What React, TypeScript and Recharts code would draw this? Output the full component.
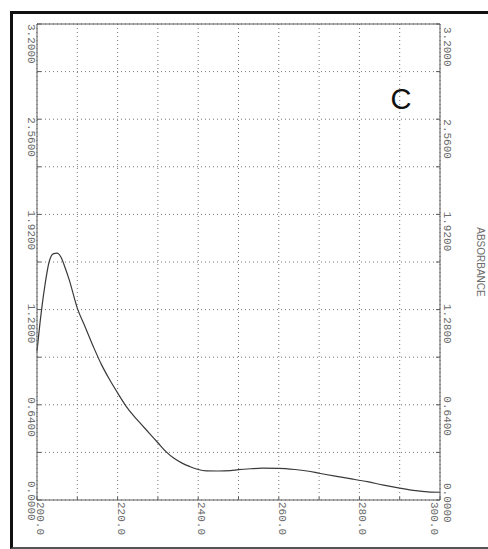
import { LineChart, Line, XAxis, YAxis, CartesianGrid, ReferenceLine, ReferenceDot } from "recharts"

// wavelength (nm) and absorbance
const wavelengths = [200, 201, 202, 203, 204, 205, 206, 207, 208, 210, 212, 214, 216, 218, 220, 222, 224, 226, 228, 230, 232, 234, 236, 238, 240, 242, 245, 248, 250, 253, 256, 260, 264, 267, 270, 274, 278, 282, 286, 290, 294, 297, 300]
const absorbance = [1.0, 1.25, 1.45, 1.6, 1.655, 1.66, 1.63, 1.56, 1.48, 1.29, 1.16, 1.03, 0.91, 0.81, 0.72, 0.635, 0.565, 0.505, 0.445, 0.385, 0.325, 0.28, 0.248, 0.224, 0.205, 0.196, 0.195, 0.198, 0.204, 0.21, 0.214, 0.213, 0.205, 0.195, 0.18, 0.16, 0.142, 0.123, 0.1, 0.08, 0.063, 0.055, 0.052]

const xTicks = [200, 210, 220, 230, 240, 250, 260, 270, 280, 290, 300]
const xLabels = [200, 220, 240, 260, 280, 300]
const yTicks = [0, 0.32, 0.64, 0.96, 1.28, 1.6, 1.92, 2.24, 2.56, 2.88, 3.2]
const yLabels = [0, 0.64, 1.28, 1.92, 2.56, 3.2]

const data = wavelengths.map((w, i) => ({ nm: w, abs: absorbance[i] }))

const labelFont = "'Liberation Mono', 'DejaVu Sans Mono', monospace"
const gray = "#6c6c6c"
const axisColor = "#5a5a5a"

function isLabel(list: number[], v: number) {
  return list.some((l) => Math.abs(l - v) < 1e-6)
}

function RotatedText({ cx, top, text }: { cx: number; top: number; text: string }) {
  return (
    <text
      x={cx}
      y={top}
      transform={`rotate(90 ${cx} ${top})`}
      textAnchor="start"
      dominantBaseline="central"
      fontFamily={labelFont}
      fontSize={11}
      fill={gray}
    >
      {text}
    </text>
  )
}

function LeftTick(props: any) {
  const { x, y, payload } = props
  const v = payload.value
  const top = v === 0 ? y - 19 : y - (y - 23) * 0.02
  return (
    <g>
      <line x1={x} x2={x + 4} y1={y} y2={y} stroke={axisColor} />
      {isLabel(yLabels, v) && <RotatedText cx={x - 6} top={top} text={v.toFixed(4)} />}
    </g>
  )
}

function RightTick(props: any) {
  const { x, y, payload } = props
  const v = payload.value
  const top = v === 0 ? y - 17 : y + 3 - (y - 23) * 0.03
  return (
    <g>
      <line x1={x - 4} x2={x} y1={y} y2={y} stroke={axisColor} />
      {isLabel(yLabels, v) && <RotatedText cx={x + 7} top={top} text={v.toFixed(4)} />}
    </g>
  )
}

function BottomTick(props: any) {
  const { x, y, payload } = props
  const v = payload.value
  const cx = v === 300 ? x - 6 : x + 3
  return (
    <g>
      <line x1={x} x2={x} y1={y - 3} y2={y} stroke={axisColor} />
      {isLabel(xLabels, v) && <RotatedText cx={cx} top={y + 2} text={v.toFixed(1)} />}
    </g>
  )
}

export default function App() {
  return (
    <div
      style={{
        position: "absolute",
        left: 0,
        top: 0,
        width: 488,
        height: 549,
        background: "#fff",
        overflow: "hidden",
      }}
    >
      {/* scan frame */}
      <div
        style={{
          position: "absolute",
          left: 10,
          top: 11,
          width: 500,
          height: 533,
          borderLeft: "3px solid #111",
          borderTop: "3px solid #111",
          borderBottom: "2px solid #555",
        }}
      />
      <div style={{ position: "absolute", left: 0, top: 0 }}>
        <LineChart
          width={488}
          height={549}
          data={data}
          margin={{ top: 24, left: 7, right: 18, bottom: 19 }}
        >
          <CartesianGrid
            yAxisId="left"
            stroke="#777"
            strokeDasharray="1 3"
            horizontalValues={yTicks}
            verticalValues={xTicks}
          />
          <XAxis
            dataKey="nm"
            type="number"
            domain={[200, 300]}
            ticks={xTicks}
            interval={0}
            height={30}
            tickSize={0}
            tickMargin={0}
            tickLine={false}
            axisLine={{ stroke: axisColor }}
            tick={<BottomTick />}
          />
          <YAxis
            yAxisId="left"
            type="number"
            domain={[0, 3.2]}
            allowDataOverflow
            ticks={yTicks}
            interval={0}
            width={30}
            tickSize={0}
            tickMargin={0}
            tickLine={false}
            axisLine={{ stroke: axisColor }}
            tick={<LeftTick />}
          />
          <YAxis
            yAxisId="right"
            orientation="right"
            type="number"
            domain={[0, 3.2]}
            allowDataOverflow
            ticks={yTicks}
            interval={0}
            width={30}
            tickSize={0}
            tickMargin={0}
            tickLine={false}
            axisLine={{ stroke: axisColor }}
            tick={<RightTick />}
            label={{
              content: (p: any) => {
                const vb = p.viewBox
                const cx = vb.x + vb.width + 10
                const cy = vb.y + vb.height / 2
                return (
                  <text
                    x={cx}
                    y={cy}
                    transform={`rotate(90 ${cx} ${cy})`}
                    textAnchor="middle"
                    dominantBaseline="central"
                    fontFamily="'Liberation Sans', Arial, sans-serif"
                    fontSize={10}
                    fill={gray}
                  >
                    ABSORBANCE
                  </text>
                )
              },
            }}
          />
          <ReferenceLine yAxisId="left" y={3.2} stroke={axisColor} />
          <ReferenceDot
            yAxisId="left"
            x={290.3}
            y={2.7}
            r={0}
            fill="none"
            stroke="none"
            label={{
              value: "C",
              position: "center",
              fontSize: 29,
              fontFamily: "'Liberation Sans', Arial, sans-serif",
              fill: "#111",
            }}
          />
          {/* keeps the right-hand absorbance axis attached to the data */}
          <Line
            yAxisId="right"
            dataKey="abs"
            stroke="none"
            strokeOpacity={0}
            dot={false}
            activeDot={false}
            isAnimationActive={false}
          />
          <Line
            yAxisId="left"
            type="monotone"
            dataKey="abs"
            stroke="#3a3a3a"
            strokeWidth={1.2}
            dot={false}
            isAnimationActive={false}
          />
        </LineChart>
      </div>
    </div>
  )
}
